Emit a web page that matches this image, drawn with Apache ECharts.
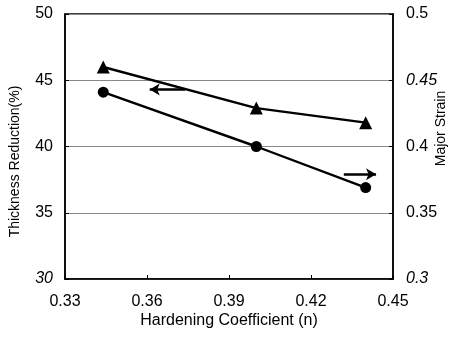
<!DOCTYPE html>
<html>
<head>
<meta charset="utf-8">
<script src="https://cdn.jsdelivr.net/npm/echarts@6/dist/echarts.min.js"></script>
<style>html,body{margin:0;padding:0;background:#fff}#c{width:457px;height:343px}</style>
</head>
<body>
<div id="c"></div>
<script>
var xValues = [0.344, 0.40, 0.44];
var thicknessReduction = [46.0, 42.9, 41.8];
var majorStrain = [0.441, 0.400, 0.369];
var xTicks = [0.33, 0.36, 0.39, 0.42, 0.45];
var leftTicks = [30, 35, 40, 45, 50];
var rightTicks = [0.3, 0.35, 0.4, 0.45, 0.5];
// arrow annotations in data units: [x1, y1, x2, y2]
var leftArrow = [0.374, 44.3, 0.361, 44.3];
var rightArrow = [0.432, 0.379, 0.4438, 0.379];

var font = 'Liberation Sans, Arial, sans-serif';
var chart = echarts.init(document.getElementById('c'));
chart.setOption({
  backgroundColor: '#fff',
  animation: false,
  grid: {left: 65, right: 64, top: 14, bottom: 64, show: true, borderColor: '#000', borderWidth: 1.5,
    outerBoundsMode: 'none', containLabel: false},
  xAxis: {
    type: 'value', min: xTicks[0], max: xTicks[xTicks.length - 1], interval: 0.03,
    name: 'Hardening Coefficient (n)', nameLocation: 'middle', nameGap: 34, nameMoveOverlap: false,
    nameTextStyle: {fontFamily: font, fontSize: 16, color: '#000'},
    axisLine: {lineStyle: {color: '#000', width: 1.5}},
    axisTick: {inside: true, length: 4, lineStyle: {color: '#000'}},
    axisLabel: {fontFamily: font, fontSize: 16, color: '#000', margin: 15,
      formatter: function (v) { return v.toFixed(2); }},
    splitLine: {show: false}
  },
  yAxis: [{
    type: 'value', min: leftTicks[0], max: leftTicks[leftTicks.length - 1], interval: 5,
    name: 'Thickness Reduction(%)', nameLocation: 'middle', nameGap: 43, nameMoveOverlap: false,
    nameTextStyle: {fontFamily: font, fontSize: 14, color: '#000', padding: [0, 0, 0, -30]},
    axisLine: {show: true, lineStyle: {color: '#000', width: 1.5}},
    axisTick: {show: true, inside: true, length: 4, lineStyle: {color: '#000'}},
    axisLabel: {fontFamily: font, fontSize: 16, color: '#000', margin: 12,
      formatter: function (v) { return v === 30 ? '{i|' + v + '}' : String(v); },
      rich: {i: {fontFamily: font, fontSize: 16, fontStyle: 'italic', color: '#000'}}},
    splitLine: {show: true, lineStyle: {color: '#888', width: 1}}
  }, {
    type: 'value', min: rightTicks[0], max: rightTicks[rightTicks.length - 1], interval: 0.05,
    name: 'Major Strain', nameLocation: 'middle', nameGap: 41, nameMoveOverlap: false,
    nameTextStyle: {fontFamily: font, fontSize: 14, color: '#000', padding: [0, 0, 0, 36]},
    axisLine: {show: true, lineStyle: {color: '#000', width: 1.5}},
    axisTick: {show: true, inside: true, length: 4, lineStyle: {color: '#000'}},
    axisLabel: {fontFamily: font, fontSize: 16, color: '#000', margin: 13,
      formatter: function (v) {
        var s = String(parseFloat(v.toFixed(2)));
        return (s === '0.3' || s === '0.45') ? '{i|' + s + '}' : s;
      },
      rich: {i: {fontFamily: font, fontSize: 16, fontStyle: 'italic', color: '#000'}}},
    splitLine: {show: false}
  }],
  series: [{
    type: 'line', yAxisIndex: 0,
    data: xValues.map(function (x, i) { return [x, thicknessReduction[i]]; }),
    symbol: 'triangle', symbolSize: 13,
    lineStyle: {color: '#000', width: 2.4},
    itemStyle: {color: '#000'},
    markLine: {
      silent: true, symbol: ['none', 'arrow'], symbolSize: [9, 10],
      label: {show: false},
      lineStyle: {color: '#000', width: 2.5, type: 'solid'},
      data: [[{coord: [leftArrow[0], leftArrow[1]]}, {coord: [leftArrow[2], leftArrow[3]]}]]
    }
  }, {
    type: 'line', yAxisIndex: 1,
    data: xValues.map(function (x, i) { return [x, majorStrain[i]]; }),
    symbol: 'circle', symbolSize: 11,
    lineStyle: {color: '#000', width: 2.4},
    itemStyle: {color: '#000'},
    markLine: {
      silent: true, symbol: ['none', 'arrow'], symbolSize: [9, 10],
      label: {show: false},
      lineStyle: {color: '#000', width: 2.5, type: 'solid'},
      data: [[{coord: [rightArrow[0], rightArrow[1]]}, {coord: [rightArrow[2], rightArrow[3]]}]]
    }
  }]
});
</script>
</body>
</html>
